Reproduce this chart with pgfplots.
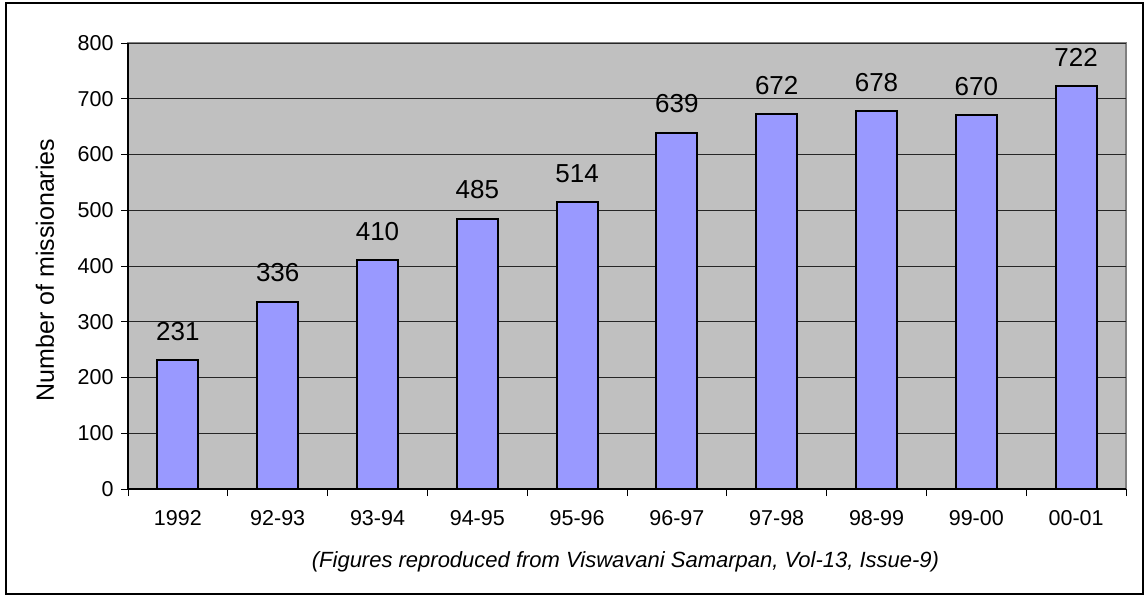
\documentclass[border=0pt]{standalone}
\usepackage{fontspec}
\setmainfont{Liberation Sans}
\usepackage{pgfplots}
\pgfplotsset{compat=1.18}
\definecolor{barblue}{HTML}{9999FF}
\definecolor{plotgray}{HTML}{C0C0C0}
\begin{document}
\begin{tikzpicture}
\useasboundingbox (0,0) rectangle (1147pt,598pt);
\draw[black, line width=1.5pt] (6pt,4pt) rectangle (1143pt,595pt);
\begin{axis}[
  at={(128pt,109pt)}, anchor=south west,
  scale only axis, width=998pt, height=446pt,
  xmin=-0.5, xmax=9.5, ymin=0, ymax=800,
  axis x line*=bottom, axis y line*=left,
  ytick={0,100,...,800},
  xtick={-0.5,0.5,...,9.5},
  xticklabels={1992,92-93,93-94,94-95,95-96,96-97,97-98,98-99,99-00,00-01,{}},
  /pgf/number format/assume math mode=true,
  tick label style={font=\fontsize{21.5}{24}\selectfont},
  x tick label style={xshift=49.9pt, yshift=-11pt},
  y tick label style={xshift=-4pt},
  tick align=outside, major tick length=7pt,
  tick style={black, line width=1pt},
  ymajorgrids, grid style={black!85, line width=1pt},
  axis background/.style={fill=plotgray, draw=gray, line width=1.2pt},
  axis line style={black, line width=1.2pt, -},
  every axis y label/.style={at={(axis description cs:-0.0832,0.491)}, rotate=90, anchor=center, font=\fontsize{25}{28}\selectfont},
  ylabel={Number of missionaries},
  every axis x label/.style={at={(axis description cs:0.4985,-0.1749)}, anchor=base, font=\itshape\fontsize{22}{26}\selectfont},
  xlabel={(Figures reproduced from Viswavani Samarpan, Vol-13, Issue-9)},
]
\addplot[ybar, bar width=41pt, fill=barblue, draw=black, line width=2pt,
  nodes near coords,
  nodes near coords style={font=\fontsize{26}{30}\selectfont, inner sep=0pt, yshift=20pt, anchor=base}]
  coordinates {(0,231) (1,336) (2,410) (3,485) (4,514) (5,639) (6,672) (7,678) (8,670) (9,722)};
\end{axis}
\end{tikzpicture}
\end{document}
